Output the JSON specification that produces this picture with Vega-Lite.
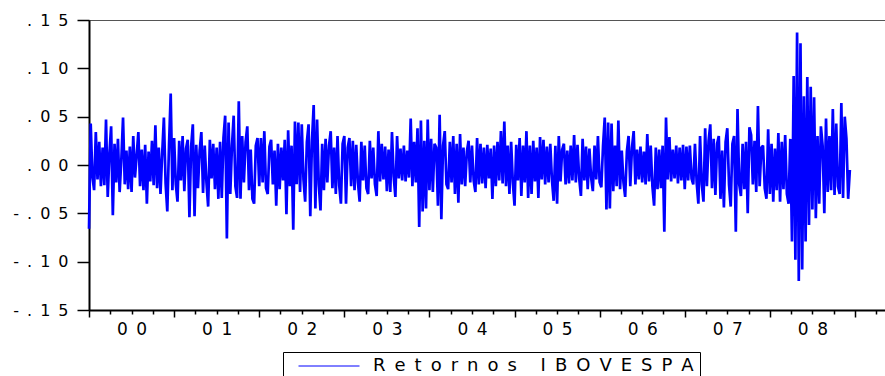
{
"$schema":"https://vega.github.io/schema/vega-lite/v6.json",
"width":796,"height":290,
"autosize":{"type":"none"},
"padding":{"left":89,"top":20,"right":0,"bottom":66},
"background":"white",
"config":{"view":{"stroke":"#555555","strokeWidth":1},"font":"DejaVu Sans",
"axis":{"domainColor":"black","domainWidth":2,"tickColor":"black","tickWidth":1.5,"labelColor":"black","labelFont":"DejaVu Sans","labelFontSize":16,"grid":false,"title":null,"labelOverlap":false,"labelFlush":false,"labelBound":false}},
"data":{"values":[
{"t":2000,"r":-0.066},{"t":2000.02,"r":0.043},{"t":2000.04,"r":-0.012},{"t":2000.06,"r":-0.026},{"t":2000.08,"r":0.034},{"t":2000.1,"r":-0.015},{"t":2000.12,"r":0.024},{"t":2000.14,"r":-0.022},{"t":2000.16,"r":0.018},{"t":2000.18,"r":-0.021},
{"t":2000.2,"r":0.047},{"t":2000.22,"r":-0.033},{"t":2000.24,"r":0.012},{"t":2000.26,"r":0.04},{"t":2000.28,"r":-0.052},{"t":2000.3,"r":0.022},{"t":2000.32,"r":-0.018},{"t":2000.34,"r":0.027},{"t":2000.36,"r":-0.028},{"t":2000.38,"r":0.006},
{"t":2000.4,"r":0.049},{"t":2000.42,"r":-0.02},{"t":2000.44,"r":0.015},{"t":2000.46,"r":-0.025},{"t":2000.48,"r":0.019},{"t":2000.5,"r":-0.028},{"t":2000.52,"r":0.03},{"t":2000.54,"r":-0.013},{"t":2000.56,"r":0.01},{"t":2000.58,"r":0.034},
{"t":2000.6,"r":-0.022},{"t":2000.62,"r":0.016},{"t":2000.64,"r":-0.026},{"t":2000.66,"r":0.021},{"t":2000.68,"r":-0.04},{"t":2000.7,"r":0.014},{"t":2000.72,"r":-0.017},{"t":2000.74,"r":0.025},{"t":2000.76,"r":-0.021},{"t":2000.78,"r":0.041},
{"t":2000.8,"r":-0.024},{"t":2000.82,"r":0.018},{"t":2000.84,"r":-0.03},{"t":2000.86,"r":0.012},{"t":2000.88,"r":0.049},{"t":2000.9,"r":-0.019},{"t":2000.92,"r":-0.048},{"t":2000.94,"r":0.02},{"t":2000.96,"r":0.074},{"t":2000.98,"r":-0.026},
{"t":2001,"r":0.028},{"t":2001.02,"r":-0.02},{"t":2001.04,"r":-0.038},{"t":2001.06,"r":0.025},{"t":2001.08,"r":-0.016},{"t":2001.1,"r":0.03},{"t":2001.12,"r":-0.027},{"t":2001.14,"r":0.017},{"t":2001.16,"r":0.026},{"t":2001.18,"r":-0.054},
{"t":2001.2,"r":0.019},{"t":2001.22,"r":0.042},{"t":2001.24,"r":-0.053},{"t":2001.26,"r":0.021},{"t":2001.28,"r":-0.024},{"t":2001.3,"r":0.015},{"t":2001.32,"r":0.034},{"t":2001.34,"r":-0.029},{"t":2001.36,"r":0.02},{"t":2001.38,"r":-0.018},
{"t":2001.4,"r":-0.043},{"t":2001.42,"r":0.026},{"t":2001.44,"r":-0.014},{"t":2001.46,"r":0.022},{"t":2001.48,"r":-0.025},{"t":2001.5,"r":0.018},{"t":2001.52,"r":-0.035},{"t":2001.54,"r":0.024},{"t":2001.56,"r":-0.034},{"t":2001.58,"r":0.028},
{"t":2001.6,"r":0.051},{"t":2001.62,"r":-0.076},{"t":2001.64,"r":0.044},{"t":2001.66,"r":-0.03},{"t":2001.68,"r":0.02},{"t":2001.7,"r":0.051},{"t":2001.72,"r":-0.022},{"t":2001.74,"r":-0.034},{"t":2001.76,"r":0.066},{"t":2001.78,"r":-0.035},
{"t":2001.8,"r":0.03},{"t":2001.82,"r":-0.018},{"t":2001.84,"r":0.024},{"t":2001.86,"r":0.04},{"t":2001.88,"r":-0.026},{"t":2001.9,"r":0.016},{"t":2001.92,"r":-0.035},{"t":2001.94,"r":-0.04},{"t":2001.96,"r":0.02},{"t":2001.98,"r":0.028},
{"t":2002,"r":-0.022},{"t":2002.02,"r":0.028},{"t":2002.04,"r":-0.018},{"t":2002.06,"r":0.035},{"t":2002.08,"r":-0.024},{"t":2002.1,"r":-0.03},{"t":2002.12,"r":0.019},{"t":2002.14,"r":0.026},{"t":2002.16,"r":-0.02},{"t":2002.18,"r":0.015},
{"t":2002.2,"r":-0.042},{"t":2002.22,"r":0.022},{"t":2002.24,"r":-0.025},{"t":2002.26,"r":0.018},{"t":2002.28,"r":-0.016},{"t":2002.3,"r":0.026},{"t":2002.32,"r":-0.051},{"t":2002.34,"r":0.036},{"t":2002.36,"r":-0.022},{"t":2002.38,"r":0.02},
{"t":2002.4,"r":-0.067},{"t":2002.42,"r":0.045},{"t":2002.44,"r":-0.02},{"t":2002.46,"r":0.044},{"t":2002.48,"r":-0.028},{"t":2002.5,"r":0.042},{"t":2002.52,"r":-0.015},{"t":2002.54,"r":-0.038},{"t":2002.56,"r":0.024},{"t":2002.58,"r":0.042},
{"t":2002.6,"r":-0.053},{"t":2002.62,"r":0.025},{"t":2002.64,"r":0.062},{"t":2002.66,"r":-0.045},{"t":2002.68,"r":0.047},{"t":2002.7,"r":-0.02},{"t":2002.72,"r":-0.047},{"t":2002.74,"r":0.022},{"t":2002.76,"r":-0.026},{"t":2002.78,"r":0.027},
{"t":2002.8,"r":-0.018},{"t":2002.82,"r":0.02},{"t":2002.84,"r":0.035},{"t":2002.86,"r":-0.024},{"t":2002.88,"r":0.018},{"t":2002.9,"r":-0.03},{"t":2002.92,"r":0.03},{"t":2002.94,"r":-0.021},{"t":2002.96,"r":-0.04},{"t":2002.98,"r":0.022},
{"t":2003,"r":0.03},{"t":2003.02,"r":-0.04},{"t":2003.04,"r":0.018},{"t":2003.06,"r":0.028},{"t":2003.08,"r":-0.022},{"t":2003.1,"r":0.025},{"t":2003.12,"r":-0.026},{"t":2003.14,"r":0.021},{"t":2003.16,"r":-0.018},{"t":2003.18,"r":-0.038},
{"t":2003.2,"r":0.024},{"t":2003.22,"r":-0.016},{"t":2003.24,"r":0.02},{"t":2003.26,"r":-0.024},{"t":2003.28,"r":-0.03},{"t":2003.3,"r":0.025},{"t":2003.32,"r":-0.014},{"t":2003.34,"r":0.018},{"t":2003.36,"r":-0.02},{"t":2003.38,"r":-0.032},
{"t":2003.4,"r":0.035},{"t":2003.42,"r":-0.017},{"t":2003.44,"r":0.022},{"t":2003.46,"r":-0.015},{"t":2003.48,"r":0.019},{"t":2003.5,"r":-0.027},{"t":2003.52,"r":0.016},{"t":2003.54,"r":-0.028},{"t":2003.56,"r":0.034},{"t":2003.58,"r":-0.012},
{"t":2003.6,"r":-0.033},{"t":2003.62,"r":0.03},{"t":2003.64,"r":-0.014},{"t":2003.66,"r":0.017},{"t":2003.68,"r":-0.016},{"t":2003.7,"r":0.02},{"t":2003.72,"r":-0.017},{"t":2003.74,"r":0.015},{"t":2003.76,"r":-0.013},{"t":2003.78,"r":0.048},
{"t":2003.8,"r":-0.022},{"t":2003.82,"r":0.024},{"t":2003.84,"r":-0.018},{"t":2003.86,"r":0.038},{"t":2003.88,"r":-0.064},{"t":2003.9,"r":0.046},{"t":2003.92,"r":-0.048},{"t":2003.94,"r":0.025},{"t":2003.96,"r":-0.045},{"t":2003.98,"r":0.047},
{"t":2004,"r":-0.026},{"t":2004.02,"r":0.027},{"t":2004.04,"r":-0.028},{"t":2004.06,"r":0.022},{"t":2004.08,"r":0.018},{"t":2004.1,"r":-0.042},{"t":2004.12,"r":0.052},{"t":2004.14,"r":-0.056},{"t":2004.16,"r":0.02},{"t":2004.18,"r":0.035},
{"t":2004.2,"r":-0.02},{"t":2004.22,"r":-0.025},{"t":2004.24,"r":0.024},{"t":2004.26,"r":-0.018},{"t":2004.28,"r":0.03},{"t":2004.3,"r":-0.03},{"t":2004.32,"r":0.022},{"t":2004.34,"r":-0.039},{"t":2004.36,"r":0.032},{"t":2004.38,"r":-0.02},
{"t":2004.4,"r":0.018},{"t":2004.42,"r":-0.022},{"t":2004.44,"r":0.014},{"t":2004.46,"r":0.025},{"t":2004.48,"r":-0.018},{"t":2004.5,"r":0.02},{"t":2004.52,"r":-0.016},{"t":2004.54,"r":-0.028},{"t":2004.56,"r":0.028},{"t":2004.58,"r":-0.02},
{"t":2004.6,"r":0.022},{"t":2004.62,"r":-0.019},{"t":2004.64,"r":0.018},{"t":2004.66,"r":-0.024},{"t":2004.68,"r":0.021},{"t":2004.7,"r":-0.014},{"t":2004.72,"r":0.017},{"t":2004.74,"r":-0.035},{"t":2004.76,"r":0.02},{"t":2004.78,"r":-0.022},
{"t":2004.8,"r":0.024},{"t":2004.82,"r":-0.016},{"t":2004.84,"r":0.035},{"t":2004.86,"r":-0.019},{"t":2004.88,"r":0.045},{"t":2004.9,"r":-0.022},{"t":2004.92,"r":0.02},{"t":2004.94,"r":-0.03},{"t":2004.96,"r":0.024},{"t":2004.98,"r":-0.018},
{"t":2005,"r":-0.042},{"t":2005.02,"r":0.021},{"t":2005.04,"r":-0.016},{"t":2005.06,"r":0.028},{"t":2005.08,"r":-0.032},{"t":2005.1,"r":0.02},{"t":2005.12,"r":-0.018},{"t":2005.14,"r":0.035},{"t":2005.16,"r":-0.034},{"t":2005.18,"r":0.02},
{"t":2005.2,"r":-0.03},{"t":2005.22,"r":0.025},{"t":2005.24,"r":-0.017},{"t":2005.26,"r":0.018},{"t":2005.28,"r":-0.034},{"t":2005.3,"r":0.029},{"t":2005.32,"r":-0.015},{"t":2005.34,"r":0.026},{"t":2005.36,"r":-0.02},{"t":2005.38,"r":0.019},
{"t":2005.4,"r":-0.018},{"t":2005.42,"r":0.022},{"t":2005.44,"r":-0.016},{"t":2005.46,"r":-0.037},{"t":2005.48,"r":0.02},{"t":2005.5,"r":-0.04},{"t":2005.52,"r":0.03},{"t":2005.54,"r":-0.017},{"t":2005.56,"r":0.016},{"t":2005.58,"r":0.022},
{"t":2005.6,"r":-0.02},{"t":2005.62,"r":0.015},{"t":2005.64,"r":-0.019},{"t":2005.66,"r":0.02},{"t":2005.68,"r":-0.016},{"t":2005.7,"r":0.031},{"t":2005.72,"r":-0.018},{"t":2005.74,"r":0.021},{"t":2005.76,"r":-0.014},{"t":2005.78,"r":-0.032},
{"t":2005.8,"r":0.027},{"t":2005.82,"r":-0.016},{"t":2005.84,"r":0.019},{"t":2005.86,"r":-0.025},{"t":2005.88,"r":0.017},{"t":2005.9,"r":-0.013},{"t":2005.92,"r":-0.027},{"t":2005.94,"r":0.02},{"t":2005.96,"r":-0.015},{"t":2005.98,"r":0.03},
{"t":2006,"r":-0.018},{"t":2006.02,"r":-0.023},{"t":2006.04,"r":0.02},{"t":2006.06,"r":0.049},{"t":2006.08,"r":-0.046},{"t":2006.1,"r":0.044},{"t":2006.12,"r":-0.045},{"t":2006.14,"r":0.043},{"t":2006.16,"r":-0.027},{"t":2006.18,"r":0.02},
{"t":2006.2,"r":-0.022},{"t":2006.22,"r":0.046},{"t":2006.24,"r":-0.025},{"t":2006.26,"r":0.015},{"t":2006.28,"r":-0.018},{"t":2006.3,"r":-0.033},{"t":2006.32,"r":0.014},{"t":2006.34,"r":0.03},{"t":2006.36,"r":-0.022},{"t":2006.38,"r":0.018},
{"t":2006.4,"r":0.035},{"t":2006.42,"r":-0.02},{"t":2006.44,"r":0.016},{"t":2006.46,"r":-0.015},{"t":2006.48,"r":0.019},{"t":2006.5,"r":-0.018},{"t":2006.52,"r":0.014},{"t":2006.54,"r":-0.02},{"t":2006.56,"r":0.032},{"t":2006.58,"r":-0.017},
{"t":2006.6,"r":0.02},{"t":2006.62,"r":-0.022},{"t":2006.64,"r":-0.042},{"t":2006.66,"r":0.018},{"t":2006.68,"r":-0.025},{"t":2006.7,"r":0.016},{"t":2006.72,"r":-0.024},{"t":2006.74,"r":0.02},{"t":2006.76,"r":-0.069},{"t":2006.78,"r":0.049},
{"t":2006.8,"r":-0.015},{"t":2006.82,"r":0.029},{"t":2006.84,"r":-0.017},{"t":2006.86,"r":0.016},{"t":2006.88,"r":-0.014},{"t":2006.9,"r":0.02},{"t":2006.92,"r":-0.019},{"t":2006.94,"r":0.018},{"t":2006.96,"r":-0.016},{"t":2006.98,"r":0.021},
{"t":2007,"r":-0.025},{"t":2007.02,"r":0.019},{"t":2007.04,"r":-0.016},{"t":2007.06,"r":0.02},{"t":2007.08,"r":-0.014},{"t":2007.1,"r":-0.02},{"t":2007.12,"r":0.022},{"t":2007.14,"r":-0.018},{"t":2007.16,"r":-0.04},{"t":2007.18,"r":0.03},
{"t":2007.2,"r":-0.02},{"t":2007.22,"r":-0.038},{"t":2007.24,"r":0.038},{"t":2007.26,"r":-0.022},{"t":2007.28,"r":0.025},{"t":2007.3,"r":0.042},{"t":2007.32,"r":-0.024},{"t":2007.34,"r":0.027},{"t":2007.36,"r":-0.031},{"t":2007.38,"r":0.022},
{"t":2007.4,"r":0.03},{"t":2007.42,"r":-0.035},{"t":2007.44,"r":0.015},{"t":2007.46,"r":-0.044},{"t":2007.48,"r":0.024},{"t":2007.5,"r":0.038},{"t":2007.52,"r":-0.02},{"t":2007.54,"r":-0.043},{"t":2007.56,"r":0.022},{"t":2007.58,"r":0.03},
{"t":2007.6,"r":-0.069},{"t":2007.62,"r":0.058},{"t":2007.64,"r":-0.02},{"t":2007.66,"r":-0.032},{"t":2007.68,"r":0.022},{"t":2007.7,"r":-0.025},{"t":2007.72,"r":0.024},{"t":2007.74,"r":-0.05},{"t":2007.76,"r":0.039},{"t":2007.78,"r":0.031},
{"t":2007.8,"r":-0.02},{"t":2007.82,"r":0.025},{"t":2007.84,"r":-0.028},{"t":2007.86,"r":0.061},{"t":2007.88,"r":-0.022},{"t":2007.9,"r":0.018},{"t":2007.92,"r":0.02},{"t":2007.94,"r":-0.024},{"t":2007.96,"r":-0.035},{"t":2007.98,"r":0.037},
{"t":2008,"r":-0.03},{"t":2008.02,"r":0.022},{"t":2008.04,"r":-0.038},{"t":2008.06,"r":0.017},{"t":2008.08,"r":-0.026},{"t":2008.1,"r":0.033},{"t":2008.12,"r":-0.038},{"t":2008.14,"r":0.024},{"t":2008.16,"r":-0.025},{"t":2008.18,"r":0.031},
{"t":2008.2,"r":-0.03},{"t":2008.22,"r":-0.04},{"t":2008.24,"r":0.027},{"t":2008.26,"r":-0.079},{"t":2008.28,"r":0.092},{"t":2008.3,"r":-0.098},{"t":2008.32,"r":0.137},{"t":2008.34,"r":-0.12},{"t":2008.36,"r":0.126},{"t":2008.38,"r":-0.108},
{"t":2008.4,"r":0.071},{"t":2008.42,"r":-0.079},{"t":2008.44,"r":0.091},{"t":2008.46,"r":-0.062},{"t":2008.48,"r":0.081},{"t":2008.5,"r":-0.046},{"t":2008.52,"r":0.07},{"t":2008.54,"r":-0.055},{"t":2008.56,"r":0.03},{"t":2008.58,"r":-0.04},
{"t":2008.6,"r":0.04},{"t":2008.62,"r":0.02},{"t":2008.64,"r":-0.05},{"t":2008.66,"r":0.048},{"t":2008.68,"r":-0.028},{"t":2008.7,"r":0.03},{"t":2008.72,"r":-0.026},{"t":2008.74,"r":0.058},{"t":2008.76,"r":-0.031},{"t":2008.78,"r":0.043},
{"t":2008.8,"r":-0.022},{"t":2008.82,"r":-0.03},{"t":2008.84,"r":0.064},{"t":2008.86,"r":-0.034},{"t":2008.88,"r":0.05},{"t":2008.9,"r":0.027},{"t":2008.92,"r":-0.035},{"t":2008.94,"r":-0.005}
]},
"mark":{"type":"line","strokeWidth":2.7,"interpolate":"linear","strokeJoin":"bevel"},
"encoding":{
"x":{"field":"t","type":"quantitative","scale":{"domain":[2000,2009.353],"nice":false,"zero":false},
"axis":{"values":[2000,2000.25,2000.5,2000.75,2001,2001.25,2001.5,2001.75,2002,2002.25,2002.5,2002.75,2003,2003.25,2003.5,2003.75,2004,2004.25,2004.5,2004.75,2005,2005.25,2005.5,2005.75,2006,2006.25,2006.5,2006.75,2007,2007.25,2007.5,2007.75,2008,2008.25,2008.5,2008.75,2009,2009.25],
"tickSize":{"condition":{"test":"datum.value % 1 == 0","value":7},"value":4},
"labelPadding":7,"labelFontSize":17,
"labelExpr":"datum.value % 1 == 0.5 ? join(split(substring('' + floor(datum.value), 2), ''), '\u2002') : ''"}},
"y":{"field":"r","type":"quantitative","scale":{"domain":[-0.15,0.15],"nice":false},
"axis":{"values":[-0.15,-0.1,-0.05,0,0.05,0.1,0.15],"tickSize":12,"labelPadding":9,"labelFontSize":16,
"labelExpr":"join(split((datum.value < 0 ? '-' : '') + '.' + substring(format(abs(datum.value), '.2f'), 2), ''), '\u2002')"}},
"color":{"datum":"Retornos IBOVESPA","type":"nominal","scale":{"range":["#0000ff"]},
"legend":{"title":null,"orient":"none","legendX":194,"legendY":332,"strokeColor":"black","padding":6,"symbolType":"stroke","symbolSize":3721,"symbolStrokeWidth":1,"clipHeight":16,"labelOffset":13,"symbolOffset":9,"labelFontSize":18,"labelFont":"DejaVu Sans","labelColor":"black","labelLimit":600,
"labelExpr":"join(split(datum.label, ''), '\u2002')"}}
}
}
